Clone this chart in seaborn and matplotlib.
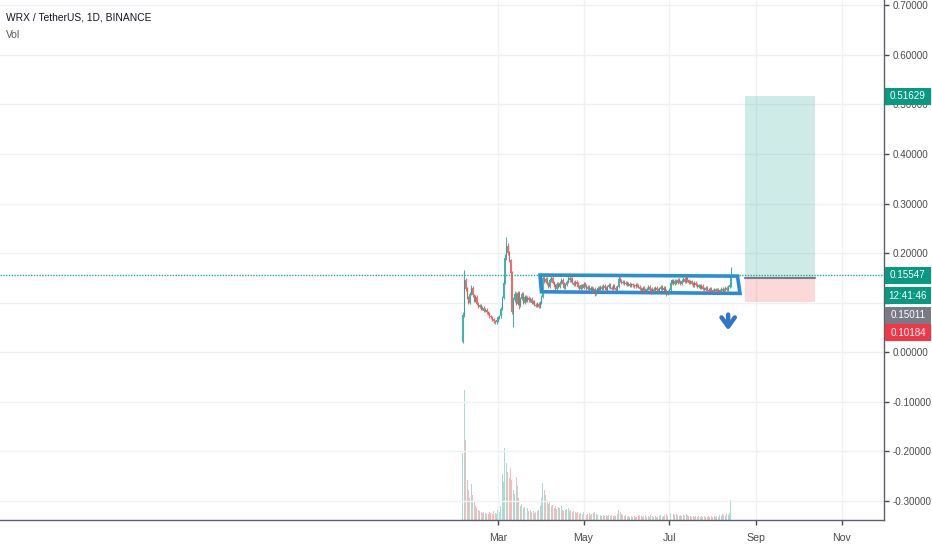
import numpy as np
import pandas as pd
import matplotlib
matplotlib.use("Agg")
import matplotlib.pyplot as plt
import matplotlib.dates as mdates
from matplotlib.patches import Rectangle, Polygon
import seaborn as sns

# --- data (prices in 1/1000 USDT) ---
start_date = "2021-02-04"
first_open = 20
closes = [
    75, 145, 128, 110, 100, 118, 130, 115, 104, 112,
    98, 92, 95, 88, 90, 84, 86, 80, 78, 72,
    70, 66, 62, 60, 64, 70, 72, 88, 110, 140,
    190, 215, 200, 185, 160, 80, 105, 118, 98, 120,
    95, 108, 118, 100, 112, 104, 110, 105, 108, 100,
    102, 96, 94, 98, 92, 100, 112, 150, 142, 148,
    138, 132, 145, 150, 140, 135, 128, 138, 132, 140,
    146, 138, 130, 136, 142, 150, 145, 148, 140, 136,
    142, 138, 132, 128, 135, 130, 138, 134, 128, 132,
    126, 130, 124, 128, 118, 124, 130, 126, 132, 128,
    134, 130, 126, 132, 136, 130, 128, 134, 130, 126,
    132, 148, 145, 140, 142, 138, 140, 136, 138, 134,
    137, 135, 133, 136, 134, 132, 128, 124, 130, 126,
    122, 128, 132, 126, 120, 128, 124, 130, 126, 122,
    128, 132, 126, 130, 124, 118, 122, 126, 140, 145,
    138, 144, 140, 146, 142, 138, 144, 148, 142, 150,
    145, 140, 143, 138, 135, 140, 136, 132, 135, 130,
    134, 128, 126, 130, 126, 124, 128, 125, 122, 127,
    124, 126, 122, 125, 128, 124, 127, 130, 126, 132,
    135, 155.47,
]
upper_wick = [
    5, 21, 4, 3, 3, 4, 5, 3, 3, 4,
    3, 3, 3, 3, 3, 3, 3, 3, 3, 3,
    3, 3, 3, 3, 3, 3, 3, 3, 4, 6,
    8, 17, 6, 5, 4, 3, 6, 5, 4, 4,
    3, 3, 3, 3, 3, 3, 3, 3, 3, 3,
    3, 3, 3, 3, 3, 3, 3, 8, 3, 4,
    3, 3, 4, 3, 3, 3, 3, 3, 3, 3,
    3, 3, 3, 3, 3, 5, 3, 3, 3, 3,
    3, 3, 3, 3, 3, 3, 3, 3, 3, 3,
    3, 3, 3, 3, 3, 3, 3, 3, 3, 3,
    3, 3, 3, 3, 3, 3, 3, 3, 3, 3,
    3, 6, 3, 3, 3, 3, 3, 3, 3, 3,
    3, 3, 3, 3, 3, 3, 3, 3, 3, 3,
    3, 3, 3, 3, 3, 3, 3, 3, 3, 3,
    3, 3, 3, 3, 3, 3, 3, 3, 3, 3,
    3, 3, 3, 3, 3, 3, 3, 3, 3, 5,
    3, 3, 3, 3, 3, 3, 3, 3, 3, 3,
    3, 3, 3, 3, 3, 3, 3, 3, 3, 3,
    3, 3, 3, 3, 3, 3, 3, 3, 3, 3,
    3, 17,
]
lower_wick = [
    2, 5, 4, 3, 3, 3, 3, 3, 3, 3,
    3, 3, 3, 3, 3, 3, 3, 3, 3, 3,
    3, 3, 3, 3, 3, 3, 3, 3, 3, 3,
    3, 3, 3, 3, 4, 4, 30, 3, 3, 3,
    8, 3, 3, 3, 3, 3, 3, 3, 3, 3,
    3, 3, 3, 3, 3, 3, 3, 3, 3, 3,
    3, 3, 3, 3, 3, 3, 3, 3, 3, 3,
    3, 3, 3, 3, 3, 3, 3, 3, 3, 3,
    3, 3, 3, 3, 3, 3, 3, 3, 3, 3,
    3, 3, 3, 3, 4, 3, 3, 3, 3, 3,
    3, 3, 3, 3, 3, 3, 3, 3, 3, 3,
    3, 3, 3, 3, 3, 3, 3, 3, 3, 3,
    3, 3, 3, 3, 3, 3, 3, 3, 3, 3,
    3, 3, 3, 3, 3, 3, 3, 3, 3, 3,
    3, 3, 3, 3, 3, 4, 3, 3, 3, 3,
    3, 3, 3, 3, 3, 3, 3, 3, 3, 3,
    3, 3, 3, 3, 3, 3, 3, 3, 3, 3,
    3, 3, 3, 3, 3, 3, 3, 3, 3, 3,
    3, 3, 3, 3, 3, 3, 3, 3, 3, 3,
    3, 3,
]
volume = [
    67, 130, 80, 40, 30, 22, 36, 25, 18, 14,
    12, 10, 9, 8, 7, 8, 7, 6, 6, 8,
    7, 6, 9, 7, 6, 10, 8, 14, 46, 38,
    72, 57, 48, 42, 52, 40, 30, 26, 43, 34,
    22, 14, 16, 12, 13, 10, 12, 9, 10, 8,
    9, 7, 8, 9, 10, 14, 22, 37, 30, 25,
    20, 16, 18, 14, 15, 12, 14, 11, 13, 12,
    14, 10, 9, 10, 11, 12, 9, 10, 8, 9,
    8, 7, 8, 6, 7, 6, 8, 6, 5, 6,
    7, 5, 6, 7, 8, 6, 5, 6, 5, 4,
    5, 4, 5, 4, 5, 4, 5, 4, 5, 4,
    6, 10, 8, 6, 5, 4, 5, 3, 4, 3,
    4, 3, 4, 3, 3, 4, 5, 4, 3, 4,
    5, 3, 4, 3, 5, 4, 3, 4, 3, 3,
    4, 5, 3, 4, 5, 6, 4, 5, 7, 8,
    6, 5, 6, 5, 4, 5, 4, 5, 4, 6,
    5, 4, 4, 3, 4, 3, 4, 3, 4, 3,
    4, 3, 4, 3, 3, 4, 3, 4, 3, 4,
    3, 4, 3, 5, 4, 6, 5, 4, 6, 5,
    7, 20,
]

month_ticks = ["2021-03-01", "2021-05-01", "2021-07-01", "2021-09-01", "2021-11-01"]
price_ticks = [0.7, 0.6, 0.5, 0.4, 0.3, 0.2, 0.1, 0.0, -0.1, -0.2, -0.3]
hidden_tick = 0.1  # covered by the price tags on the scale

last_price = 0.15547
entry_price = 0.15011
target_price = 0.51629
stop_price = 0.10184
countdown = "12:41:46"
position_start, position_end = "2021-08-24", "2021-10-13"

# channel drawn over the range (corners: date, price)
channel_dates = ["2021-03-31", "2021-08-18 16:00", "2021-08-20 10:00", "2021-04-01"]
channel_prices = [0.1556, 0.1535, 0.1186, 0.1218]
arrow_date = "2021-08-12"
arrow_from, arrow_to = 0.0814, 0.0384

UP, DOWN = "#26a69a", "#ef5350"

# --- build candles ---
df = pd.DataFrame({"close": np.array(closes) / 1000})
df["date"] = pd.date_range(start_date, periods=len(df), freq="D")
df["open"] = df["close"].shift(1).fillna(first_open / 1000)
df["high"] = df[["open", "close"]].max(axis=1) + np.array(upper_wick) / 1000
df["low"] = df[["open", "close"]].min(axis=1) - np.array(lower_wick) / 1000
df["vol"] = volume
df["color"] = np.where(df["close"] >= df["open"], UP, DOWN)
x = mdates.date2num(df["date"])

sns.set_theme(style="white")
plt.rcParams["font.family"] = ["Liberation Sans", "DejaVu Sans"]

fig = plt.figure(figsize=(9.32, 5.5), dpi=100)
ax = fig.add_axes([0, 30 / 550, 884 / 932, 520 / 550])

# volume on its own hidden scale
ax_vol = ax.twinx()
ax_vol.bar(x, df["vol"], width=0.7, color=df["color"], alpha=0.4, linewidth=0)
ax_vol.set_ylim(0, max(volume) * 4)
ax_vol.set_yticks([])
for s in ax_vol.spines.values():
    s.set_visible(False)
ax.set_zorder(ax_vol.get_zorder() + 1)
ax.patch.set_visible(False)

# candles
ax.vlines(x, df["low"], df["high"], colors=df["color"], linewidth=0.8, alpha=0.85)
ax.bar(x, (df["close"] - df["open"]).abs(), bottom=df[["open", "close"]].min(axis=1),
       width=0.75, color=df["color"], linewidth=0, alpha=0.85)

# last price line
ax.axhline(last_price, color=UP, linestyle=(0, (1, 1)), linewidth=1)

# long position tool
p0, p1 = mdates.datestr2num(position_start), mdates.datestr2num(position_end)
ax.add_patch(Rectangle((p0, entry_price), p1 - p0, target_price - entry_price,
                       facecolor="#26a69a", alpha=0.22, linewidth=0))
ax.add_patch(Rectangle((p0, stop_price), p1 - p0, entry_price - stop_price,
                       facecolor="#ef5350", alpha=0.22, linewidth=0))
ax.plot([p0, p1], [entry_price, entry_price], color="#787b86", linewidth=1.5)

# channel box and arrow
corners = list(zip(mdates.datestr2num(channel_dates), channel_prices))
ax.add_patch(Polygon(corners, closed=True, fill=False, edgecolor="#2a8bdb", linewidth=2.6))
ad = mdates.datestr2num(arrow_date)
ax.annotate("", xy=(ad, arrow_to), xytext=(ad, arrow_from),
            arrowprops=dict(arrowstyle="->,head_length=0.55,head_width=0.4",
                            color="#2f76c6", lw=3.2))

# axes styling
ax.set_xlim(mdates.datestr2num("2020-03-11 08:00"), mdates.datestr2num("2021-12-01"))
ax.set_ylim(-0.339, 0.711)
ax.set_xticks(mdates.datestr2num(month_ticks))
ax.xaxis.set_major_formatter(mdates.DateFormatter("%b"))
ax.set_yticks(price_ticks)
ax.yaxis.set_major_formatter(plt.FuncFormatter(
    lambda v, _: "" if abs(v - hidden_tick) < 1e-9 else f"{v:.5f}"))
ax.yaxis.tick_right()
ax.tick_params(axis="both", colors="#4a4a4a", labelsize=7.1, length=3.5, width=1,
               direction="out")
ax.tick_params(axis="x", labelsize=7.6)
ax.tick_params(axis="y", pad=3, right=True, left=False)
ax.tick_params(axis="x", pad=6, bottom=True)
ax.grid(True, color="#eef0f4", linewidth=1)
for side in ["left", "top"]:
    ax.spines[side].set_visible(False)
for side in ["right", "bottom"]:
    ax.spines[side].set_color("#5d606b")
    ax.spines[side].set_linewidth(1)

# price tags on the scale (lower ones are stacked under the last-price tag)
for y, text, color, dy in [
    (target_price, f"{target_price:.5f}", "#089981", 0),
    (last_price, f"{last_price:.5f}", "#089981", 0),
    (last_price, countdown, "#089981", 20.5),
    (last_price, f"{entry_price:.5f}", "#787b86", 40),
    (last_price, f"{stop_price:.5f}", "#f23645", 57.5),
]:
    px, py = ax.get_yaxis_transform().transform((1.0, y))
    py -= dy
    fig.add_artist(Rectangle((px + 1, py - 8.5), 46, 17, transform=None,
                             facecolor=color, edgecolor="none", zorder=5))
    fig.text((px + 24) / fig.bbox.width, py / fig.bbox.height, text, ha="center",
             va="center", color="white", fontsize=7.1, zorder=6)

fig.text(6 / 932, 1 - 18 / 550, "WRX / TetherUS, 1D, BINANCE", color="#131722",
         fontsize=7.4, va="center", ha="left")
fig.text(6 / 932, 1 - 35 / 550, "Vol", color="#555555", fontsize=7.4,
         va="center", ha="left")

fig.savefig("out.png", dpi=100)
